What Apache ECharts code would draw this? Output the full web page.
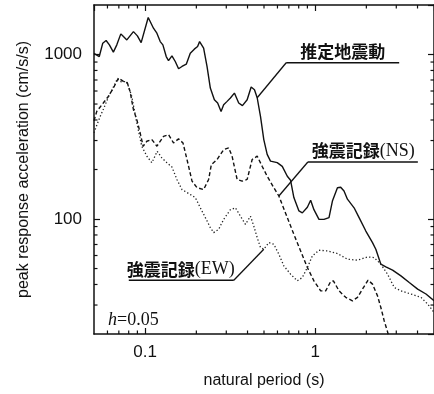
<!DOCTYPE html>
<html><head><meta charset="utf-8">
<script src="https://cdn.jsdelivr.net/npm/echarts@6/dist/echarts.min.js"></script>
<style>html,body{margin:0;padding:0;background:#fff}#c{width:434px;height:394px}</style>
</head><body><div id="c"></div>
<script>
// natural period (s), peak response acceleration (cm/s/s)
const estimatedMotion = [[0.05,1017],[0.0507,1028],[0.0537,972],[0.0563,1172],[0.0589,1216],[0.0616,1145],[0.065,1034],[0.0681,1145],[0.0719,1335],[0.0745,1285],[0.078,1227],[0.0853,1378],[0.09,1298],[0.0947,1182],[0.1042,1680],[0.1119,1445],[0.1172,1348],[0.1226,1198],[0.1271,1145],[0.133,972],[0.1372,919],[0.1437,982],[0.1503,907],[0.1572,819],[0.1646,846],[0.1745,874],[0.1842,1019],[0.1945,1078],[0.2034,1118],[0.209,1198],[0.2207,1093],[0.2311,846],[0.2417,625],[0.2553,531],[0.2669,507],[0.2795,451],[0.2895,495],[0.3033,519],[0.3172,544],[0.3349,583],[0.355,507],[0.3733,489],[0.398,531],[0.4202,634],[0.4395,611],[0.4559,546],[0.4768,421],[0.4986,304],[0.522,247],[0.546,225],[0.598,220],[0.6404,209],[0.6856,182],[0.7167,172],[0.7494,135],[0.8026,112],[0.8404,109],[0.8996,118],[0.9405,130],[0.9833,114],[1.053,99.5],[1.127,99.5],[1.206,102],[1.263,128.5],[1.352,155],[1.413,156],[1.478,148],[1.548,132],[1.694,117],[1.813,102],[1.986,84.5],[2.174,71.9],[2.274,65.5],[2.434,53.1],[2.605,51.2],[2.853,48.9],[3.194,45.1],[3.576,41.1],[4.007,37.5],[4.485,35.0],[5.0,31.9]];
const recordNS = [[0.05,396],[0.0519,451],[0.0567,507],[0.0607,556],[0.065,625],[0.0696,719],[0.0745,686],[0.0786,671],[0.0815,596],[0.0853,462],[0.0893,402],[0.0934,334],[0.0973,277],[0.1023,297],[0.1095,304],[0.1172,277],[0.1282,318],[0.1372,326],[0.1468,290],[0.1572,307],[0.1669,290],[0.1762,230],[0.1886,170],[0.2018,155],[0.2207,151],[0.2362,174],[0.245,214],[0.2648,230],[0.2895,264],[0.3099,271],[0.3245,241],[0.3474,174],[0.3718,170],[0.398,174],[0.4259,230],[0.4559,241],[0.4879,209],[0.522,182],[0.5713,155],[0.6114,138],[0.6856,102],[0.7494,80.7],[0.8211,64.0],[0.8996,50.7],[0.9833,42.1],[1.077,36.6],[1.153,36.6],[1.234,41.7],[1.28,42.1],[1.381,36.6],[1.513,33.4],[1.657,31.8],[1.774,33.4],[1.899,37.5],[2.048,42.5],[2.174,40.2],[2.327,34.1],[2.434,29.0],[2.546,24.1],[2.666,20.6],[2.8,17]];
const recordEW = [[0.05,334],[0.0521,375],[0.0543,419],[0.0573,475],[0.0605,546],[0.0647,628],[0.0686,712],[0.0721,683],[0.078,686],[0.0834,556],[0.0893,384],[0.0955,277],[0.1023,241],[0.1095,220],[0.1177,258],[0.1254,235],[0.1342,220],[0.1437,207],[0.1537,174],[0.1646,151],[0.1842,141],[0.1972,135],[0.2111,117],[0.2259,102],[0.2417,88.7],[0.2528,82.7],[0.2706,86.6],[0.2895,99.5],[0.3172,114],[0.3395,117],[0.3634,104],[0.3889,92.8],[0.4162,104],[0.4354,90.6],[0.4559,77.1],[0.4768,67.1],[0.4986,65.5],[0.5336,71.9],[0.5713,70.2],[0.6114,61.1],[0.6545,51.9],[0.7167,46.2],[0.785,42.1],[0.8404,44.1],[0.8996,50.7],[0.9624,59.6],[1.053,64.6],[1.18,64.0],[1.352,61.7],[1.548,57.0],[1.774,56.2],[2.031,58.8],[2.222,58.3],[2.434,53.1],[2.666,46.2],[2.916,38.4],[3.194,36.6],[3.658,35.0],[4.19,33.4],[4.59,30.4],[5.0,27.1]];

const xTickValues = [0.1, 1];
const xTickLabels = ['0.1', '1'];
const yTickValues = [100, 1000];
const yTickLabels = ['100', '1000'];
const xMinorValues = [0.06,0.07,0.08,0.09,0.2,0.3,0.4,0.5,0.6,0.7,0.8,0.9,2,3,4];
const yMinorValues = [30,40,50,60,70,80,90,200,300,400,500,600,700,800,900];

const seriesNames = ['推定地震動', '強震記録(NS)', '強震記録(EW)'];
// annotation anchors: which data point each leader line touches
const anchorEst = estimatedMotion[45];
const anchorNS = recordNS[39];
const anchorEW = recordEW[36];

(function () {
const INK = '#111';
function fmt(values, labels) {
  return function (v) {
    for (let i = 0; i < values.length; i++) {
      if (Math.abs(Math.log10(v) - Math.log10(values[i])) < 1e-6) return labels[i];
    }
    return '';
  };
}
const axisFont = { fontSize: 16, fontFamily: 'Liberation Sans', color: INK };
const tickFont = { fontSize: 17, fontFamily: 'Liberation Sans', color: INK };
function mkAxis(pos, min, max, isMain, values, labels, extra, margin) {
  return Object.assign({
    type: 'log', logBase: 10, min: min, max: max, position: pos,
    axisLine: { show: true, lineStyle: { color: INK, width: 1.5 } },
    axisTick: { show: true, inside: true, length: 6, lineStyle: { color: INK, width: 1.2 } },
    axisLabel: isMain ? Object.assign({ show: true, margin: margin, showMinLabel: false, showMaxLabel: false, formatter: fmt(values, labels) }, tickFont) : { show: false },
    splitLine: { show: false }, minorTick: { show: false }, minorSplitLine: { show: false }
  }, extra || {});
}

const chart = echarts.init(document.getElementById('c'), null, { renderer: 'canvas' });
chart.setOption({
  animation: false,
  backgroundColor: '#fff',
  grid: { left: 94, right: 0, top: 5, bottom: 59, containLabel: false },
  xAxis: [
    mkAxis('bottom', 0.05, 5, true, xTickValues, xTickLabels, {
      name: 'natural period (s)', nameLocation: 'middle', nameGap: 39,
      nameTextStyle: axisFont
    }, 10),
    mkAxis('top', 0.05, 5, false)
  ],
  yAxis: [
    mkAxis('left', 20, 2000, true, yTickValues, yTickLabels, {
      name: 'peak response acceleration (cm/s/s)', nameLocation: 'middle', nameGap: 62,
      nameTextStyle: axisFont
    }, 12),
    mkAxis('right', 20, 2000, false)
  ],
  series: [
    { name: seriesNames[0], type: 'line', data: estimatedMotion, showSymbol: false, symbol: 'none',
      lineStyle: { color: INK, width: 1.4, type: 'solid' }, xAxisIndex: 0, yAxisIndex: 0 },
    { name: seriesNames[1], type: 'line', data: recordNS, showSymbol: false, symbol: 'none',
      lineStyle: { color: INK, width: 1.4, type: [4, 2.5] }, xAxisIndex: 0, yAxisIndex: 0 },
    { name: seriesNames[2], type: 'line', data: recordEW, showSymbol: false, symbol: 'none',
      lineStyle: { color: '#222', width: 1.3, type: [1.3, 2.2] }, xAxisIndex: 0, yAxisIndex: 0 }
  ]
});

const g = [];
const px = v => chart.convertToPixel({ xAxisIndex: 0 }, v);
const py = v => chart.convertToPixel({ yAxisIndex: 0 }, v);
const gLeft = px(0.05), gRight = px(5), gTop = py(2000), gBottom = py(20);
function seg(x1, y1, x2, y2, w) {
  g.push({ type: 'line', silent: true, z: 10, shape: { x1: x1, y1: y1, x2: x2, y2: y2 },
    style: { stroke: INK, lineWidth: w || 1.2 } });
}
yMinorValues.forEach(v => { const y = py(v); seg(gLeft, y, gLeft + 3.5, y); seg(gRight, y, gRight - 3.5, y); });
xMinorValues.forEach(v => { const x = px(v); seg(x, gBottom, x, gBottom - 3.5); seg(x, gTop, x, gTop + 3.5); });

const kan = { fontFamily: 'Noto Sans CJK JP', fontWeight: 'bold', fontSize: 17, fill: INK };
const rom = { fontFamily: 'Liberation Serif', fontSize: 18, fill: INK };
function label(text, x, y) {
  g.push({ type: 'text', silent: true, z: 10, x: x, y: y,
    style: { text: text, verticalAlign: 'middle', align: 'left', rich: { k: kan, r: rom } } });
}
function anchorPx(p) { return chart.convertToPixel({ xAxisIndex: 0, yAxisIndex: 0 }, p); }

let a = anchorPx(anchorEst);
seg(a[0], a[1], a[0] + 29, a[1] - 35, 1.3);
seg(a[0] + 29, a[1] - 35, a[0] + 142, a[1] - 35, 1.5);
label('{k|推定地震動}', a[0] + 43, a[1] - 46);

a = anchorPx(anchorNS);
seg(a[0], a[1], a[0] + 29, a[1] - 34, 1.3);
seg(a[0] + 29, a[1] - 34, a[0] + 139, a[1] - 34, 1.5);
label('{k|強震記録}{r|(NS)}', a[0] + 33, a[1] - 45);

a = anchorPx(anchorEW);
seg(a[0], a[1], a[0] - 30, a[1] + 31, 1.3);
seg(a[0] - 30, a[1] + 31, a[0] - 135, a[1] + 31, 1.5);
label('{k|強震記録}{r|(EW)}', a[0] - 137, a[1] + 20);

g.push({ type: 'text', silent: true, z: 10, x: 108, y: 320,
  style: { text: '{i|h}{n|=0.05}', verticalAlign: 'middle',
    rich: { i: { fontFamily: 'Liberation Serif', fontStyle: 'italic', fontSize: 18, fill: INK },
            n: { fontFamily: 'Liberation Serif', fontSize: 18, fill: INK } } } });

chart.setOption({ graphic: g });
})();
</script>
</body></html>
